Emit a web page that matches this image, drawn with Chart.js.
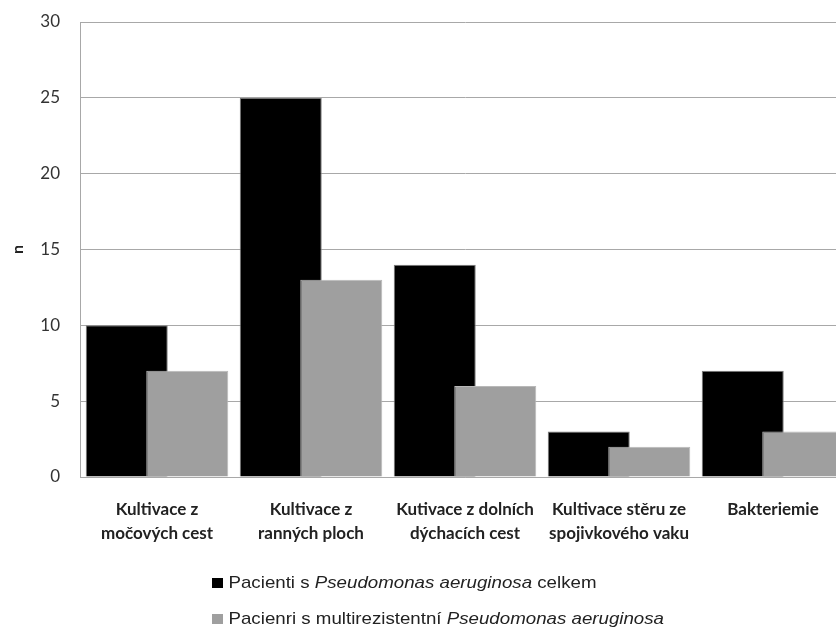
<!DOCTYPE html>
<html>
<head>
<meta charset="utf-8">
<script src="https://cdn.jsdelivr.net/npm/chart.js@4"></script>
<style>
  html, body { margin: 0; padding: 0; background: #fff; overflow: hidden; }
  #wrap { position: relative; width: 852px; height: 629px; }
  #legend { position: absolute; left: 212px; top: 570px; font-family: "Liberation Sans", Arial, sans-serif; font-size: 17px; color: #222; transform: scaleX(1.1); transform-origin: left top; }
  #legend div { height: 36px; line-height: 26px; white-space: nowrap; }
  #legend span.box { display: inline-block; width: 10px; height: 10px; margin-right: 5px; vertical-align: 0px; }
</style>
</head>
<body>
<div id="wrap">
  <canvas id="myChart" width="852" height="629"></canvas>
  <div id="legend"></div>
</div>
<script>
// categories and values
const categories = [
  ["Kultivace z", "močových cest"],
  ["Kultivace z", "ranných ploch"],
  ["Kutivace z dolních", "dýchacích cest"],
  ["Kultivace stěru ze", "spojivkového vaku"],
  ["Bakteriemie"]
];
const totalPatients = [10, 25, 14, 3, 7];
const multiResistant = [7, 13, 6, 2, 3];
const yTicks = [0, 5, 10, 15, 20, 25, 30];

// legend text: [plain, italic, plain]
const legendTotal = ["Pacienti s ", "Pseudomonas aeruginosa", " celkem"];
const legendMulti = ["Pacienri s multirezistentní ", "Pseudomonas aeruginosa", ""];

const gridColor = "#a8a8a8";

// Chart.js paints dataset 0 last; the grey bars have to sit on top of the black ones
const greyOnTop = {
  id: 'greyOnTop',
  beforeDatasetDraw(chart, args) {
    if (args.index === 1 && !chart._greyPass) return false;
  },
  afterDatasetsDraw(chart) {
    chart._greyPass = true;
    const ctx = chart.ctx;
    ctx.save();
    const a = chart.chartArea;
    ctx.beginPath();
    ctx.rect(a.left, a.top - 2, a.right - a.left, a.bottom - a.top + 4);
    ctx.clip();
    chart.getDatasetMeta(1).controller.draw();
    ctx.restore();
    chart._greyPass = false;
  }
};

new Chart(document.getElementById('myChart'), {
  type: 'bar',
  data: {
    labels: categories,
    datasets: [
      {
        label: legendTotal.join(""),
        data: totalPatients,
        backgroundColor: "#000000",
        borderColor: "#7a7a7a",
        borderWidth: 1,
        categoryPercentage: 0.786,
        barPercentage: 1.355
      },
      {
        label: legendMulti.join(""),
        data: multiResistant,
        backgroundColor: "#9f9f9f",
        borderColor: "#b8b8b8",
        borderWidth: 1,
        categoryPercentage: 0.786,
        barPercentage: 1.355
      }
    ]
  },
  plugins: [greyOnTop],
  options: {
    responsive: false,
    animation: false,
    devicePixelRatio: 1,
    layout: { padding: { top: 22, right: 2, left: 0, bottom: 0 } },
    plugins: {
      legend: { display: false },
      tooltip: { enabled: false }
    },
    scales: {
      x: {
        grid: { display: false, drawTicks: false },
        border: { color: gridColor },
        ticks: {
          padding: 20,
          color: "#222",
          font: { family: "Lato", size: 17, weight: "bold", lineHeight: 1.42 },
          maxRotation: 0,
          autoSkip: false
        },
        afterFit(scale) { scale.height = 152; }
      },
      y: {
        min: 0,
        max: 30,
        afterBuildTicks(scale) { scale.ticks = yTicks.map(v => ({ value: v })); },
        grid: { color: gridColor, drawTicks: false },
        border: { color: gridColor },
        ticks: {
          padding: 20,
          color: "#333",
          font: { family: "Lato", size: 17 }
        },
        title: {
          display: true,
          text: "n",
          color: "#222",
          font: { family: "Lato", size: 16, weight: "bold" },
          padding: { top: 8, bottom: 0 }
        },
        afterFit(scale) {
          scale.width = 80;
          scale.paddingTop = 0;
          scale.paddingBottom = 0;
        }
      }
    }
  }
});

// legend with the italic species name
function legendRow(parts, color) {
  const row = document.createElement('div');
  const box = document.createElement('span');
  box.className = 'box';
  box.style.background = color;
  row.appendChild(box);
  row.appendChild(document.createTextNode(parts[0]));
  const it = document.createElement('i');
  it.textContent = parts[1];
  row.appendChild(it);
  if (parts[2]) row.appendChild(document.createTextNode(parts[2]));
  return row;
}
const legend = document.getElementById('legend');
legend.appendChild(legendRow(legendTotal, "#000"));
legend.appendChild(legendRow(legendMulti, "#9f9f9f"));
</script>
</body>
</html>
